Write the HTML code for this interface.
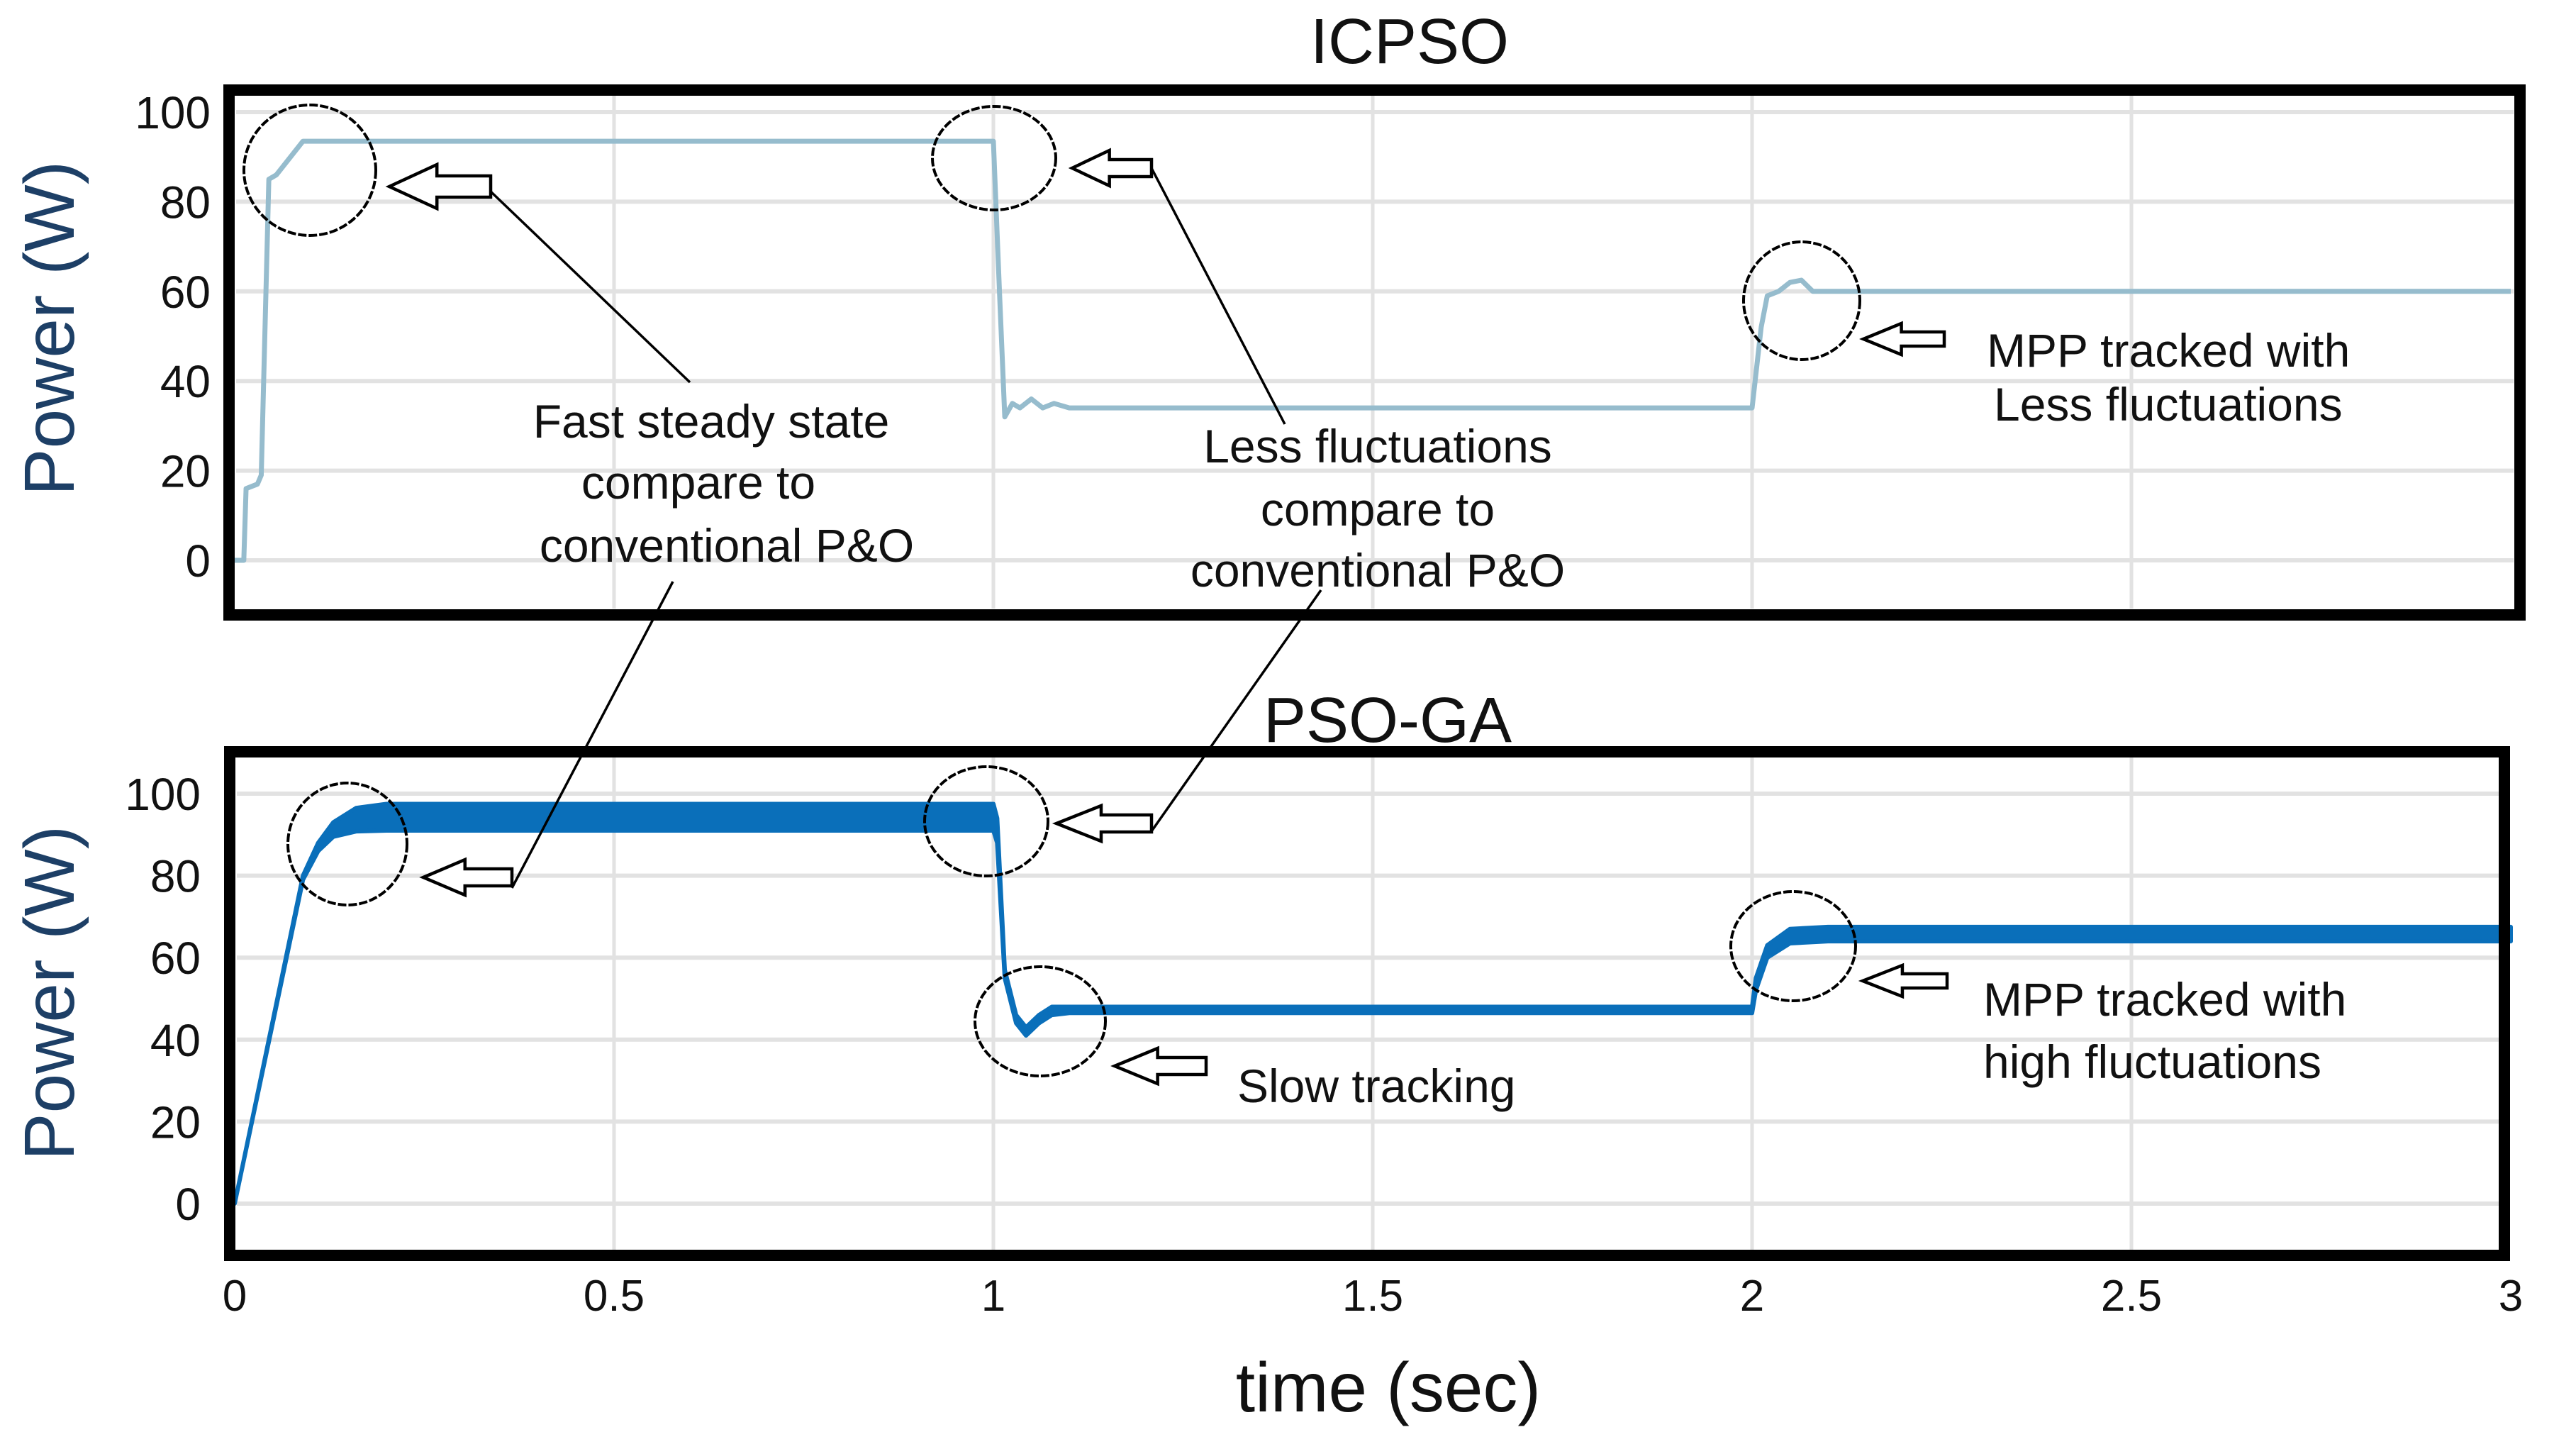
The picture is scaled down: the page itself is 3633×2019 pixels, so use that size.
<!DOCTYPE html>
<html><head><meta charset="utf-8"><style>
html,body{margin:0;padding:0;background:#fff;}
svg{display:block;font-family:"Liberation Sans",sans-serif;}
</style></head><body>
<svg id="chart" width="3633" height="2019" viewBox="0 0 3633 2019" xmlns="http://www.w3.org/2000/svg">
<rect width="3633" height="2019" fill="#fff"/>
<g id="grid"></g>
<g id="series"></g>
<g id="frames"></g>
<g id="labels"></g>
<g id="annot" fill="none" stroke="#000"></g>
</svg>
<script>
// ---- data ----
const xTicks = [0, 0.5, 1, 1.5, 2, 2.5, 3];
const xTickLabels = ["0", "0.5", "1", "1.5", "2", "2.5", "3"];
const yTicks = [0, 20, 40, 60, 80, 100];
const yTickLabels = ["0", "20", "40", "60", "80", "100"];
// ICPSO (top)
const icpsoTime = [0, 0.012, 0.015, 0.03, 0.035, 0.045, 0.055, 0.09, 1.0, 1.008, 1.015, 1.025, 1.035, 1.05, 1.065, 1.08, 1.1, 2.0, 2.012, 2.02, 2.035, 2.05, 2.065, 2.08, 3.0];
const icpsoPower = [0, 0, 16, 17, 19, 85, 86, 93.5, 93.5, 60, 32, 35, 34, 36, 34, 35, 34, 34, 52, 59, 60, 62, 62.5, 60, 60];
// PSO-GA (bottom) envelope
const psogaTime = [0, 0.09, 0.11, 0.13, 0.16, 0.2, 1.0, 1.005, 1.015, 1.03, 1.043, 1.06, 1.077, 1.1, 2.0, 2.005, 2.02, 2.05, 2.1, 3.0];
const psogaLow  = [0, 79, 86, 89.5, 90.8, 91, 91, 88, 55, 44, 41, 44, 46, 46.5, 46.5, 52, 60, 63.5, 64, 64];
const psogaHigh = [0, 80, 88, 93, 96.5, 97.5, 97.5, 94, 57, 46, 43, 46, 48, 48, 48, 55, 63, 67, 67.5, 67.5];

const NS = "http://www.w3.org/2000/svg";
function mk(tag, attrs, parent, text) {
  const e = document.createElementNS(NS, tag);
  for (const k in attrs) e.setAttribute(k, attrs[k]);
  if (text !== undefined) e.textContent = text;
  parent.appendChild(e);
  return e;
}
const gGrid = document.getElementById('grid');
const gSeries = document.getElementById('series');
const gFrames = document.getElementById('frames');
const gLabels = document.getElementById('labels');
const gAnnot = document.getElementById('annot');

const t0 = 331, tRate = 1070;
function xs(t) { return t0 + t * tRate; }
const panels = [
  {name: 'icpso', l: 333, r: 3545, top: 135, bot: 858, y0: 790, yk: 6.32, frame: [323, 127, 3231, 740], tickX: 297},
  {name: 'psoga', l: 334, r: 3524, top: 1068, bot: 1762, y0: 1697, yk: 5.78, frame: [324, 1060, 3208, 710], tickX: 283}
];

panels.forEach(p => {
  const ys = v => p.y0 - v * p.yk;
  yTicks.forEach((v, i) => {
    const gl = mk('line', {x1: p.l, x2: p.r, y1: ys(v), y2: ys(v), stroke: '#e2e2e2', 'stroke-width': 6}, gGrid);
    
    
    const tl = mk('text', {x: p.tickX, y: ys(v) + 23, 'text-anchor': 'end', 'font-size': 64, fill: '#111'}, gLabels, yTickLabels[i]);
    
    
  });
  xTicks.forEach(t => {
    if (t === 0 || t === 3) return;
    const gl = mk('line', {x1: xs(t), x2: xs(t), y1: p.top, y2: p.bot, stroke: '#e2e2e2', 'stroke-width': 5}, gGrid);
    
    
  });
  const fr = mk('rect', {x: p.frame[0], y: p.frame[1], width: p.frame[2], height: p.frame[3], fill: 'none', stroke: '#000', 'stroke-width': 16}, gFrames);
  
  
});

// top series
(function () {
  const p = panels[0];
  const pts = icpsoTime.map((t, i) => xs(t) + ',' + (p.y0 - icpsoPower[i] * p.yk)).join(' ');
  const l = mk('polyline', {points: pts, fill: 'none', stroke: '#96bccd', 'stroke-width': 7, 'stroke-linejoin': 'round'}, gSeries);
  
  
})();
// bottom series
(function () {
  const p = panels[1];
  const up = psogaTime.map((t, i) => xs(t) + ',' + (p.y0 - psogaHigh[i] * p.yk));
  const lo = psogaTime.map((t, i) => xs(t) + ',' + (p.y0 - psogaLow[i] * p.yk)).reverse();
  const band = mk('polygon', {points: up.concat(lo).join(' '), fill: '#0a6fba', stroke: '#0a6fba', 'stroke-width': 6, 'stroke-linejoin': 'round'}, gSeries);
  
  
})();

// x tick labels
xTicks.forEach((t, i) => {
  const tl = mk('text', {x: xs(t), y: 1848, 'text-anchor': 'middle', 'font-size': 62, fill: '#111'}, gLabels, xTickLabels[i]);
  
  
});

// titles
function txt(name, x, y, size, s, extra) {
  const a = Object.assign({x: x, y: y, 'font-size': size, fill: '#111', 'text-anchor': 'middle'}, extra || {});
  const e = mk('text', a, gLabels, s);
  
  
  return e;
}
txt('icpso-title', 1988, 89, 90, 'ICPSO');
txt('psoga-title', 1957, 1046, 90, 'PSO-GA');
txt('x-axis-title', 1958, 1990, 98, 'time (sec)');
txt('icpso-y-axis-title', 0, 0, 100, 'Power (W)', {transform: 'translate(104,463) rotate(-90)', fill: '#1d3f66'});
txt('psoga-y-axis-title', 0, 0, 100, 'Power (W)', {transform: 'translate(104,1400) rotate(-90)', fill: '#1d3f66'});

// annotation texts
const A = 66;
txt('note-fast-steady-1', 1003, 617, A, 'Fast steady state');
txt('note-fast-steady-2', 985, 703, A, 'compare to');
txt('note-fast-steady-3', 1025, 792, A, 'conventional P&O');
txt('note-less-fluct-1', 1943, 652, A, 'Less fluctuations');
txt('note-less-fluct-2', 1943, 741, A, 'compare to');
txt('note-less-fluct-3', 1943, 827, A, 'conventional P&O');
txt('note-mpp-less-1', 2802, 517, A, 'MPP tracked with', {'text-anchor': 'start'});
txt('note-mpp-less-2', 2812, 593, A, 'Less fluctuations', {'text-anchor': 'start'});
txt('note-slow-tracking', 1745, 1554, A, 'Slow tracking', {'text-anchor': 'start'});
txt('note-mpp-high-1', 2797, 1432, A, 'MPP tracked with', {'text-anchor': 'start'});
txt('note-mpp-high-2', 2797, 1520, A, 'high fluctuations', {'text-anchor': 'start'});

// ellipses
[[437, 240, 93, 92, 'ellipse-icpso-start'], [1402, 223, 87, 73, 'ellipse-icpso-drop'], [2541, 424, 82, 83, 'ellipse-icpso-step'],
 [490, 1190, 84, 86, 'ellipse-psoga-start'], [1391, 1158, 87, 77, 'ellipse-psoga-drop'], [1467, 1440, 92, 77, 'ellipse-psoga-slow'], [2529, 1334, 88, 77, 'ellipse-psoga-step']]
.forEach(e => {
  const el = mk('ellipse', {cx: e[0], cy: e[1], rx: e[2], ry: e[3], 'stroke-width': 4, 'stroke-dasharray': '12 3'}, gAnnot);
  
  
});
// hollow arrows pointing left
function arrow(name, tip, y, len, hh, sh) {
  const hl = len * 0.47;
  const pts = [[tip, y], [tip + hl, y - hh], [tip + hl, y - sh], [tip + len, y - sh], [tip + len, y + sh], [tip + hl, y + sh], [tip + hl, y + hh]]
    .map(q => q.join(',')).join(' ');
  const el = mk('polygon', {points: pts, 'stroke-width': 4.5, fill: '#fff'}, gAnnot);
  
  
}
arrow('arrow-icpso-start', 549, 263, 143, 31, 15);
arrow('arrow-icpso-drop', 1512, 237, 112, 25, 12);
arrow('arrow-icpso-step', 2628, 478, 114, 22, 10);
arrow('arrow-psoga-start', 597, 1237, 125, 25, 12);
arrow('arrow-psoga-drop', 1490, 1161, 134, 25, 12);
arrow('arrow-psoga-slow', 1572, 1503, 129, 25, 12);
arrow('arrow-psoga-step', 2627, 1383, 119, 22, 10);
// leader lines
[[692, 270, 973, 539, 'leader-fast-top'], [949, 820, 722, 1252, 'leader-fast-bottom'],
 [1624, 237, 1812, 598, 'leader-less-top'], [1863, 832, 1624, 1172, 'leader-less-bottom']]
.forEach(l => {
  const el = mk('line', {x1: l[0], y1: l[1], x2: l[2], y2: l[3], 'stroke-width': 3.5}, gAnnot);
  
  
});
</script>
</body></html>
